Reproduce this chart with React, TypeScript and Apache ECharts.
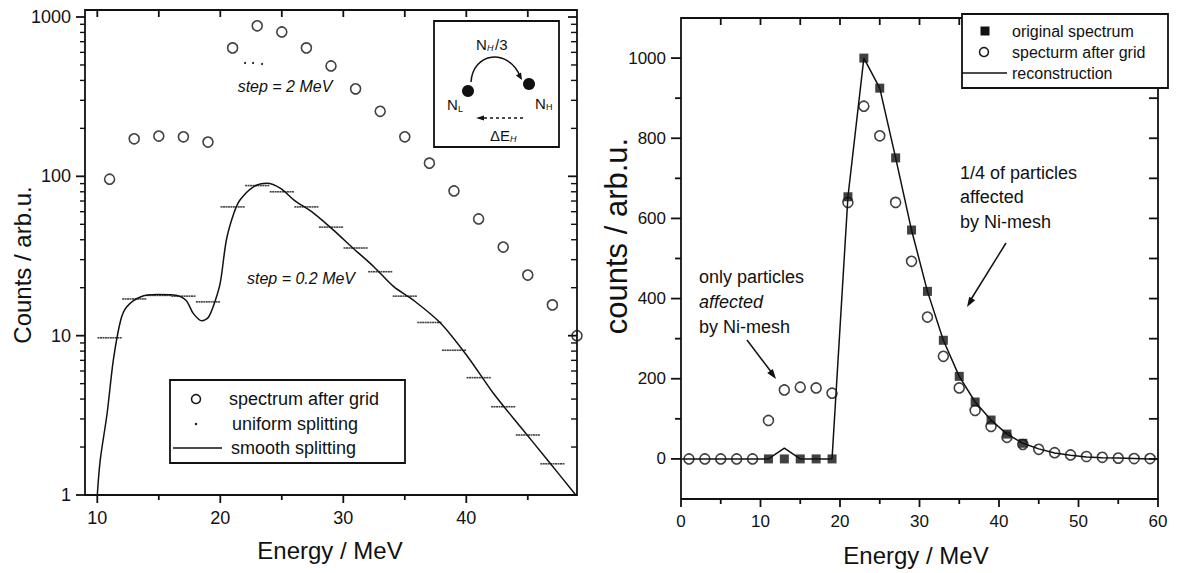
import React, { useEffect, useRef } from "react";
import * as echarts from "echarts";

// ---------------- data ----------------
// spectrum after grid (step = 2 MeV), bin centres and counts
const gridE = [1, 3, 5, 7, 9, 11, 13, 15, 17, 19, 21, 23, 25, 27, 29, 31, 33, 35, 37, 39, 41, 43, 45, 47, 49, 51, 53, 55, 57, 59];
const gridCounts = [0, 0, 0, 0, 0, 96, 172, 179, 177, 164, 640, 880, 806, 640, 493, 354, 256, 177, 121, 81, 54, 36, 24, 15.6, 10, 6, 4, 2, 1, 1];

// uniform splitting (step = 0.2 MeV): level of each 2 MeV bin
const uniformBins = [11, 13, 15, 17, 19, 21, 23, 25, 27, 29, 31, 33, 35, 37, 39, 41, 43, 45, 47];
const uniformLevels = [9.7, 17.0, 17.9, 17.7, 16.3, 64.3, 87.5, 80.0, 64.3, 48.0, 35.5, 25.2, 17.7, 12.1, 8.1, 5.45, 3.58, 2.38, 1.57];
const uniformOffsets = [-0.9, -0.7, -0.5, -0.3, -0.1, 0.1, 0.3, 0.5, 0.7, 0.9];

// smooth splitting curve
const smoothE = [10.0, 10.24, 10.8, 11.3, 11.9, 12.4, 13.5, 14.9, 16.2, 17.2, 17.8, 18.5, 19.05, 19.6, 20.0, 20.5, 21.1, 21.6, 22.7, 23.8, 24.9, 26.0, 27.6, 29.2, 30.8, 32.5, 34.1, 35.7, 37.9, 40.1, 42.2, 44.4, 46.6, 48.9];
const smoothCounts = [1.0, 1.66, 3.26, 7.0, 12.5, 15.2, 17.5, 18.1, 18.0, 16.7, 13.8, 12.4, 13.1, 16.7, 21.5, 40, 58.6, 71, 86, 90.5, 84, 71, 58.6, 46, 35.4, 27, 20.3, 16.7, 12, 7.4, 4.35, 2.68, 1.66, 1.0];

// original spectrum (right panel)
const origE = [11, 13, 15, 17, 19, 21, 23, 25, 27, 29, 31, 33, 35, 37, 39, 41, 43];
const origCounts = [0, 0, 0, 0, 0, 654, 1000, 925, 751, 571, 418, 296, 206, 142, 97, 62, 39];

// reconstruction (right panel)
const recoE = [0, 1, 3, 5, 7, 9, 11, 13, 15, 17, 19, 21, 23, 25, 27, 29, 31, 33, 35, 37, 39, 41, 43, 45, 47, 49, 51, 53, 55, 57, 59, 60];
const recoCounts = [0, 0, 0, 0, 0, 0, 0, 27, 0, 0, 0, 654, 1000, 925, 751, 571, 418, 296, 206, 142, 97, 62, 39, 25, 15, 9, 5, 3, 2, 1, 0, 0];

// ticks
const leftXLabels = [10, 20, 30, 40];
const leftXMinor = [15, 25, 35, 45];
const leftXTop = [10, 15, 20, 25, 30, 35, 40, 45];
const leftYMajor = [1, 10, 100, 1000];
const leftYMinor = [2, 3, 4, 5, 6, 7, 8, 9, 20, 30, 40, 50, 60, 70, 80, 90, 200, 300, 400, 500, 600, 700, 800, 900];
const rightXMajor = [0, 10, 20, 30, 40, 50, 60];
const rightXMinor = [5, 15, 25, 35, 45, 55];
const rightXTop = [5, 10, 15, 20, 25, 30, 35, 40, 45, 50, 55];
const rightYLabels = [0, 200, 400, 600, 800, 1000];
const rightYMinor = [100, 300, 500, 700, 900];
const rightYRight = [0, 100, 200, 300, 400, 500, 600, 700, 800, 900, 1000];

const FONT = "'Liberation Sans', Arial, Helvetica, sans-serif";
const INK = "#111";

// ---------------- helpers ----------------
function txt(x: number, y: number, text: string, size: number, opt: any = {}) {
  const align = opt.align || "left";
  const v = opt.v || "middle";
  return {
    type: "text",
    x,
    y,
    rotation: opt.rotation || 0,
    z: 100,
    silent: true,
    style: {
      text,
      font: `${opt.italic ? "italic " : ""}${size}px ${FONT}`,
      fill: INK,
      align,
      textAlign: align,
      verticalAlign: v,
      textVerticalAlign: v,
    },
  };
}
function seg(x1: number, y1: number, x2: number, y2: number, w = 1.5, dash?: number[], z = 100) {
  return {
    type: "line",
    z,
    silent: true,
    shape: { x1, y1, x2, y2 },
    style: { stroke: INK, lineWidth: w, lineDash: dash },
  };
}
function head(fx: number, fy: number, tx: number, ty: number, len = 9, half = 3.5) {
  const dx = tx - fx;
  const dy = ty - fy;
  const d = Math.sqrt(dx * dx + dy * dy);
  const ux = dx / d;
  const uy = dy / d;
  const bx = tx - ux * len;
  const by = ty - uy * len;
  return {
    type: "polygon",
    z: 100,
    silent: true,
    shape: {
      points: [
        [tx, ty],
        [bx - uy * half, by + ux * half],
        [bx + uy * half, by - ux * half],
      ],
    },
    style: { fill: INK },
  };
}
function frame(x: number, y: number, w: number, h: number, fill = "none", z = 50) {
  return {
    type: "rect",
    z,
    silent: true,
    shape: { x, y, width: w, height: h },
    style: { fill, stroke: INK, lineWidth: 1.8 },
  };
}

const staticGraphics: any[] = [
  // frames
  frame(85, 10, 492, 485),
  frame(681, 18, 477, 481),
  // axis titles
  txt(330, 550, "Energy / MeV", 24, { align: "center" }),
  txt(916, 555, "Energy / MeV", 24, { align: "center" }),
  txt(22, 265, "Counts / arb.u.", 24, { align: "center", rotation: Math.PI / 2 }),
  txt(616, 236, "counts / arb.u.", 31, { align: "center", rotation: Math.PI / 2 }),
  // left annotations
  txt(285, 86, "step = 2 MeV", 16, { align: "center", italic: true }),
  txt(301, 278, "step = 0.2 MeV", 16, { align: "center", italic: true }),
  { type: "circle", z: 100, silent: true, shape: { cx: 245, cy: 63, r: 1 }, style: { fill: INK } },
  { type: "circle", z: 100, silent: true, shape: { cx: 253, cy: 63, r: 1 }, style: { fill: INK } },
  { type: "circle", z: 100, silent: true, shape: { cx: 262, cy: 64, r: 1 }, style: { fill: INK } },
  // inset
  frame(434, 21, 125, 126, "#fff", 90),
  txt(476, 44, "N", 15),
  txt(487, 48, "H", 9, { italic: true }),
  txt(495, 44, "/3", 15),
  {
    type: "bezierCurve", z: 100, silent: true,
    shape: { x1: 471, y1: 82, cpx1: 473, cpy1: 52, cpx2: 508, cpy2: 48, x2: 520, y2: 76 },
    style: { stroke: INK, lineWidth: 1.5, fill: "none" },
  },
  head(515, 68, 522, 80, 7, 3),
  { type: "circle", z: 100, silent: true, shape: { cx: 468, cy: 91, r: 6 }, style: { fill: INK } },
  { type: "circle", z: 100, silent: true, shape: { cx: 529, cy: 84, r: 6 }, style: { fill: INK } },
  txt(447, 104, "N", 15),
  txt(458, 109, "L", 9),
  txt(535, 103, "N", 15),
  txt(546, 107, "H", 9),
  seg(484, 118, 523, 118, 1.3, [3, 3]),
  head(486, 118, 476, 118, 8, 2.5),
  txt(490, 135, "ΔE", 15),
  txt(510, 139, "H", 9, { italic: true }),
  // left legend
  frame(170, 380, 235, 83, "#fff", 90),
  { type: "circle", z: 100, silent: true, shape: { cx: 196, cy: 399, r: 4.5 }, style: { fill: "none", stroke: INK, lineWidth: 1.5 } },
  txt(229, 399, "spectrum after grid", 18),
  { type: "circle", z: 100, silent: true, shape: { cx: 196, cy: 424, r: 1.2 }, style: { fill: INK } },
  txt(232, 424, "uniform splitting", 18),
  seg(173, 448, 222, 448, 1.5),
  txt(231, 448, "smooth splitting", 18),
  // right legend
  frame(962, 14, 206, 74, "#fff", 90),
  { type: "rect", z: 100, silent: true, shape: { x: 980.5, y: 26.5, width: 9, height: 9 }, style: { fill: INK } },
  txt(1012, 31, "original spectrum", 16),
  { type: "circle", z: 100, silent: true, shape: { cx: 984, cy: 52, r: 4.5 }, style: { fill: "none", stroke: INK, lineWidth: 1.5 } },
  txt(1012, 52, "specturm after grid", 16),
  seg(962, 73, 1007, 73, 1.5),
  txt(1012, 73, "reconstruction", 16),
  // right annotations
  txt(699, 277, "only particles", 18),
  txt(699, 302, "affected", 18, { italic: true }),
  txt(699, 327, "by Ni-mesh", 18),
  seg(747, 340, 772, 373, 1.5),
  head(747, 340, 776, 379, 10, 3.5),
  txt(960, 173, "1/4 of particles", 18),
  txt(960, 197, "affected", 18),
  txt(960, 222, "by Ni-mesh", 18),
  seg(1006, 243, 970, 301, 1.5),
  head(1006, 243, 967, 307, 10, 3.5),
];

export default function App() {
  const ref = useRef<HTMLDivElement>(null);

  useEffect(() => {
    if (!ref.current) return;
    const chart = echarts.init(ref.current, null, { renderer: "svg" });

    const leftCircles = gridE
      .map((e, i) => [e, gridCounts[i]])
      .filter((p) => p[0] >= 11 && p[0] <= 49 && p[1] > 0);
    const rightCircles = gridE.map((e, i) => [e, gridCounts[i]]);
    const uniformPts: number[][] = [];
    uniformBins.forEach((c, i) => {
      uniformOffsets.forEach((o) => uniformPts.push([c + o, uniformLevels[i]]));
    });
    const smoothPts = smoothE.map((e, i) => [e, smoothCounts[i]]);
    const origPts = origE.map((e, i) => [e, origCounts[i]]);
    const recoPts = recoE.map((e, i) => [e, recoCounts[i]]);

    const L = { xmin: 9, xmax: 49, ymin: 1, ymax: 1000 };
    const R = { xmin: 0, xmax: 60, ymin: -100, ymax: 1100 };

    const labelStyle = (size: number) => ({ show: true, fontSize: size, fontFamily: FONT, color: INK, formatter: (v: number) => String(v) });
    const base = {
      axisLine: { show: false, onZero: false },
      axisTick: { show: false },
      splitLine: { show: false },
    };

    const option: any = {
      animation: false,
      backgroundColor: "#fff",
      grid: [
        { left: 85, right: 606, top: 17, bottom: 78 },
        { left: 681, right: 25, top: 18, bottom: 74 },
      ],
      xAxis: [
        {
          gridIndex: 0, type: "value", min: L.xmin, max: L.xmax, position: "bottom", ...base,
          axisLabel: { customValues: leftXLabels, margin: 14, ...labelStyle(18) },
        },
        {
          gridIndex: 1, type: "value", min: R.xmin, max: R.xmax, interval: 10, position: "bottom", ...base,
          axisLabel: { margin: 14, ...labelStyle(17) },
        },
      ],
      yAxis: [
        {
          gridIndex: 0, type: "log", logBase: 10, min: L.ymin, max: L.ymax, position: "left", ...base,
          axisLabel: { customValues: leftYMajor, margin: 14, ...labelStyle(18) },
        },
        {
          gridIndex: 1, type: "value", min: R.ymin, max: R.ymax, position: "left", ...base,
          axisLabel: { customValues: rightYLabels, margin: 15, ...labelStyle(17) },
        },
      ],
      series: [
        {
          name: "smooth splitting", type: "line", xAxisIndex: 0, yAxisIndex: 0,
          data: smoothPts, smooth: 0.3, symbol: "none", showSymbol: false,
          lineStyle: { color: INK, width: 1.5 }, z: 2,
        },
        {
          name: "uniform splitting", type: "scatter", xAxisIndex: 0, yAxisIndex: 0,
          data: uniformPts, symbol: "rect", symbolSize: [2, 1.6],
          itemStyle: { color: INK }, z: 3,
        },
        {
          name: "spectrum after grid", type: "scatter", xAxisIndex: 0, yAxisIndex: 0,
          data: leftCircles, symbol: "circle", symbolSize: 10, clip: false,
          itemStyle: { color: "rgba(0,0,0,0)", borderColor: INK, borderWidth: 1.6 }, z: 4,
        },
        {
          name: "reconstruction", type: "line", xAxisIndex: 1, yAxisIndex: 1,
          data: recoPts, symbol: "none", showSymbol: false,
          lineStyle: { color: INK, width: 1.5 }, z: 2,
        },
        {
          name: "original spectrum", type: "scatter", xAxisIndex: 1, yAxisIndex: 1,
          data: origPts, symbol: "rect", symbolSize: 9,
          itemStyle: { color: INK }, z: 3,
        },
        {
          name: "specturm after grid", type: "scatter", xAxisIndex: 1, yAxisIndex: 1,
          data: rightCircles, symbol: "circle", symbolSize: 10,
          itemStyle: { color: "rgba(0,0,0,0)", borderColor: INK, borderWidth: 1.6 }, z: 4,
        },
      ],
    };

    chart.setOption(option);

    // tick marks placed through the axes' own scales (below the legend boxes)
    const tickEls: any[] = [];
    const addTicks = (gi: number, pts: number[][], dx: number, dy: number, w = 1.8, oy = 0) => {
      pts.forEach((pt) => {
        const p: any = chart.convertToPixel({ gridIndex: gi } as any, pt);
        if (!p || !isFinite(p[0]) || !isFinite(p[1])) return;
        tickEls.push(seg(p[0], p[1] + oy, p[0] + dx, p[1] + oy + dy, w, undefined, 70));
      });
    };
    const atX = (vals: number[], y: number) => vals.map((v) => [v, y]);
    const atY = (vals: number[], x: number) => vals.map((v) => [x, v]);

    addTicks(0, atX(leftXLabels, L.ymin), 0, 8);
    addTicks(0, atX(leftXMinor, L.ymin), 0, 5);
    addTicks(0, atX(leftXTop, L.ymax), 0, 7, 1.8, -7);
    addTicks(0, atY(leftYMajor, L.xmin), -9, 0);
    addTicks(0, atY(leftYMinor, L.xmin), -5, 0, 1.4);
    addTicks(0, atY(leftYMajor, L.xmax), -9, 0);
    addTicks(0, atY(leftYMinor, L.xmax), -6, 0, 1.4);
    addTicks(1, atX(rightXMajor, R.ymin), 0, 8);
    addTicks(1, atX(rightXMinor, R.ymin), 0, 5);
    addTicks(1, atX(rightXTop, R.ymax), 0, 7);
    addTicks(1, atY(rightYLabels, R.xmin), -10, 0);
    addTicks(1, atY(rightYMinor, R.xmin), -6, 0);
    addTicks(1, atY(rightYRight, R.xmax), -9, 0);

    chart.setOption({ graphic: { elements: [...staticGraphics, ...tickEls] } });

    return () => chart.dispose();
  }, []);

  return (
    <div
      ref={ref}
      style={{ position: "fixed", left: 0, top: 0, width: 1183, height: 573, background: "#fff" }}
    />
  );
}
